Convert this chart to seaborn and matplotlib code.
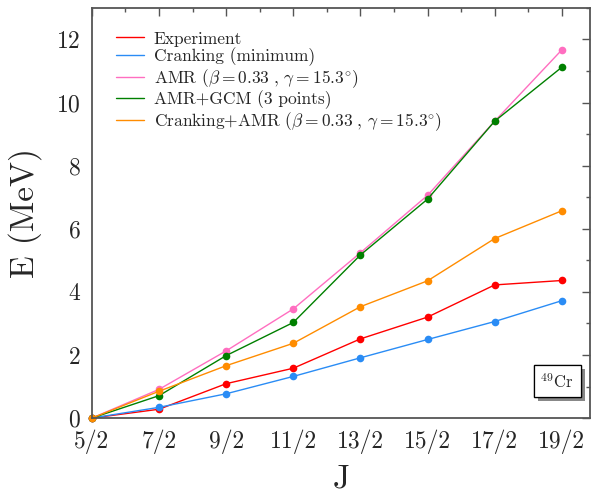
import numpy as np
import pandas as pd
import matplotlib
matplotlib.use("Agg")
import matplotlib.pyplot as plt
import matplotlib.patheffects as pe
from matplotlib.lines import Line2D
from matplotlib.ticker import MultipleLocator
import seaborn as sns

# Spin values J and tick labels
j_labels = ["5/2", "7/2", "9/2", "11/2", "13/2", "15/2", "17/2", "19/2"]

# Excitation energies (MeV) of the 49Cr band
experiment = [0.0, 0.28, 1.09, 1.58, 2.51, 3.20, 4.22, 4.36]
cranking_min = [0.0, 0.34, 0.77, 1.32, 1.91, 2.49, 3.06, 3.72]
amr = [0.0, 0.91, 2.13, 3.46, 5.24, 7.06, 9.41, 11.67]
amr_gcm = [0.0, 0.71, 1.98, 3.03, 5.17, 6.94, 9.41, 11.12]
cranking_amr = [0.0, 0.85, 1.66, 2.37, 3.53, 4.35, 5.69, 6.57]

series_names = [
    "Experiment",
    "Cranking (minimum)",
    r"AMR ($\beta = 0.33\ ,\,\gamma = 15.3^{\circ}$)",
    "AMR+GCM (3 points)",
    r"Cranking+AMR ($\beta = 0.33\ ,\,\gamma = 15.3^{\circ}$)",
]
series_values = [experiment, cranking_min, amr, amr_gcm, cranking_amr]
series_colors = ["#ff0000", "#2a8cf5", "#ff6ec0", "#008000", "#ff8c00"]

sns.set_style("white")
plt.rcParams["font.family"] = ["cmr10", "DejaVu Serif"]
plt.rcParams["mathtext.fontset"] = "cm"
plt.rcParams["axes.unicode_minus"] = False
plt.rcParams["axes.formatter.use_mathtext"] = True

rows = []
for name, vals in zip(series_names, series_values):
    for i, v in enumerate(vals):
        rows.append({"pos": i, "E": v, "series": name})
df = pd.DataFrame(rows)

fig = plt.figure(figsize=(5.93, 4.93), dpi=100)
ax = fig.add_axes([0.155, 0.152, 0.840, 0.832])

palette = dict(zip(series_names, series_colors))
sns.lineplot(data=df, x="pos", y="E", hue="series", hue_order=series_names,
             palette=palette, marker="o", markersize=5.5, markeredgewidth=0,
             linewidth=1.0, legend=False, ax=ax, clip_on=False)

ax.set_xlim(0, 7.42)
ax.set_ylim(0, 13)
ax.set_xticks(range(len(j_labels)))
ax.set_xticklabels(j_labels)
ax.xaxis.set_minor_locator(MultipleLocator(0.5))
ax.set_yticks(range(0, 13, 2))
ax.yaxis.set_minor_locator(MultipleLocator(1))

spine_color = "#555555"
for s in ax.spines.values():
    s.set_visible(True)
    s.set_color(spine_color)
    s.set_linewidth(1.3)

ax.tick_params(which="both", direction="in", top=True, right=True,
               color=spine_color, width=1.0, labelsize=17, pad=8)
ax.tick_params(which="major", length=6)
ax.tick_params(which="minor", length=3)

ax.set_xlabel("J", fontsize=24, labelpad=8)
ax.set_ylabel("E (MeV)", fontsize=24, labelpad=10)

handles = [Line2D([], [], color=c, lw=1.0) for c in series_colors]
ax.legend(handles, series_names, loc="upper left", frameon=False,
          fontsize=12.5, handlelength=1.6, handletextpad=0.55,
          labelspacing=0.05, borderaxespad=0.0, bbox_to_anchor=(0.035, 0.96))

label = ax.text(6.93, 1.17, r"$^{49}$Cr", fontsize=12, ha="center", va="center",
                bbox=dict(boxstyle="square,pad=0.4", facecolor="white",
                          edgecolor="black", linewidth=0.9))
label.get_bbox_patch().set_path_effects([
    pe.withSimplePatchShadow(offset=(3, -3), shadow_rgbFace="#888888", alpha=1.0),
    pe.Normal(),
])

fig.savefig("out.png", dpi=100)
